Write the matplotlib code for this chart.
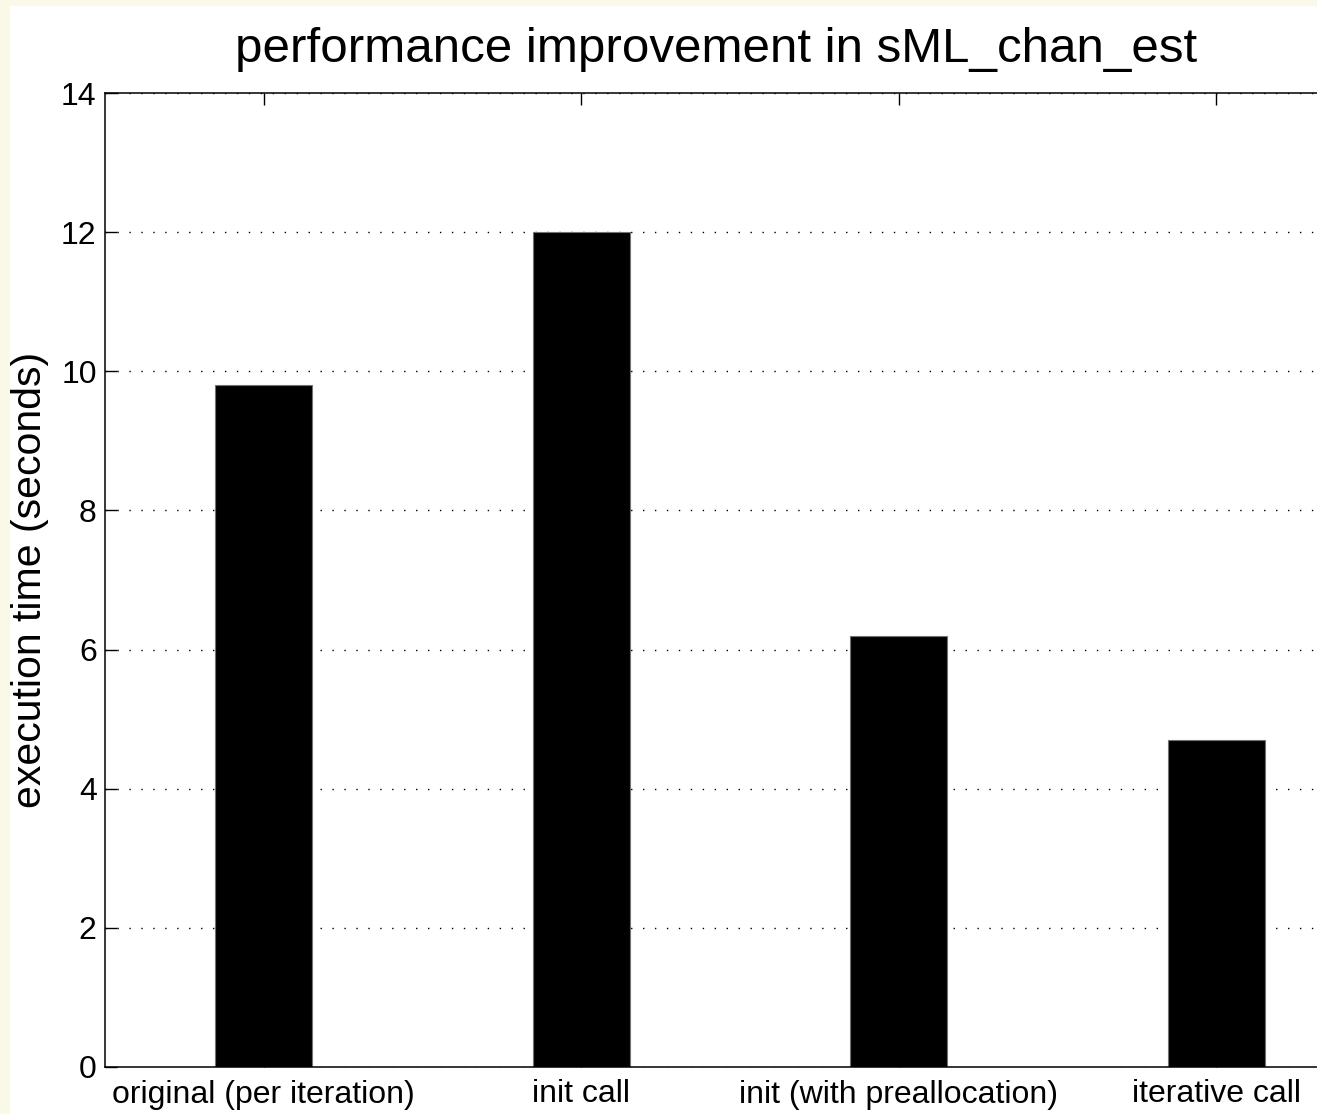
import matplotlib
matplotlib.use("Agg")
import matplotlib.pyplot as plt
from matplotlib.patches import Rectangle

categories = ["original (per iteration)", "init call", "init (with preallocation)", "iterative call"]
exec_times = [9.8, 12.0, 6.2, 4.7]
y_ticks = [0, 2, 4, 6, 8, 10, 12, 14]

plt.rcParams["font.family"] = ["Liberation Sans", "DejaVu Sans"]

W, H = 1317, 1114
fig = plt.figure(figsize=(W / 100, H / 100), dpi=100)
fig.patch.set_facecolor("#FAF8E6")
# white drawing area inset from the left and top edges
fig.patches.append(Rectangle((10 / W, 0), 1, 1 - 6 / H, transform=fig.transFigure,
                             facecolor="white", edgecolor="none", zorder=-5))

left, right, bottom, top = 105, 1375, H - 1067, H - 93
ax = fig.add_axes([left / W, bottom / H, (right - left) / W, (top - bottom) / H])
ax.set_zorder(1)
ax.set_facecolor("white")

x = list(range(1, len(categories) + 1))
ax.bar(x, exec_times, width=0.305, color="black", edgecolor="0.45", linewidth=0.8, zorder=2)

ax.set_xlim(0.5, len(categories) + 0.5)
ax.set_ylim(0, 14)
ax.set_xticks(x)
ax.set_xticklabels(categories, fontsize=23)
ax.set_yticks(y_ticks)
ax.set_yticklabels([str(v) for v in y_ticks], fontsize=23)

ax.set_axisbelow(True)
ax.yaxis.grid(True, color="black", linewidth=1.0, linestyle=(0, (1, 7.6)))
ax.xaxis.grid(False)

ax.tick_params(direction="in", length=8.6, width=1.0, top=True, right=True,
               colors="black", pad=6)
ax.tick_params(axis="x", pad=9)
for sp in ax.spines.values():
    sp.set_linewidth(1.1)
    sp.set_color("black")

ax.set_ylabel("execution time (seconds)", fontsize=29.5, labelpad=9)
ax.set_title("performance improvement in sML_chan_est", fontsize=35.5, pad=22,
             x=(716 - left) / (right - left))

fig.savefig("out.png", dpi=100, facecolor=fig.get_facecolor())
